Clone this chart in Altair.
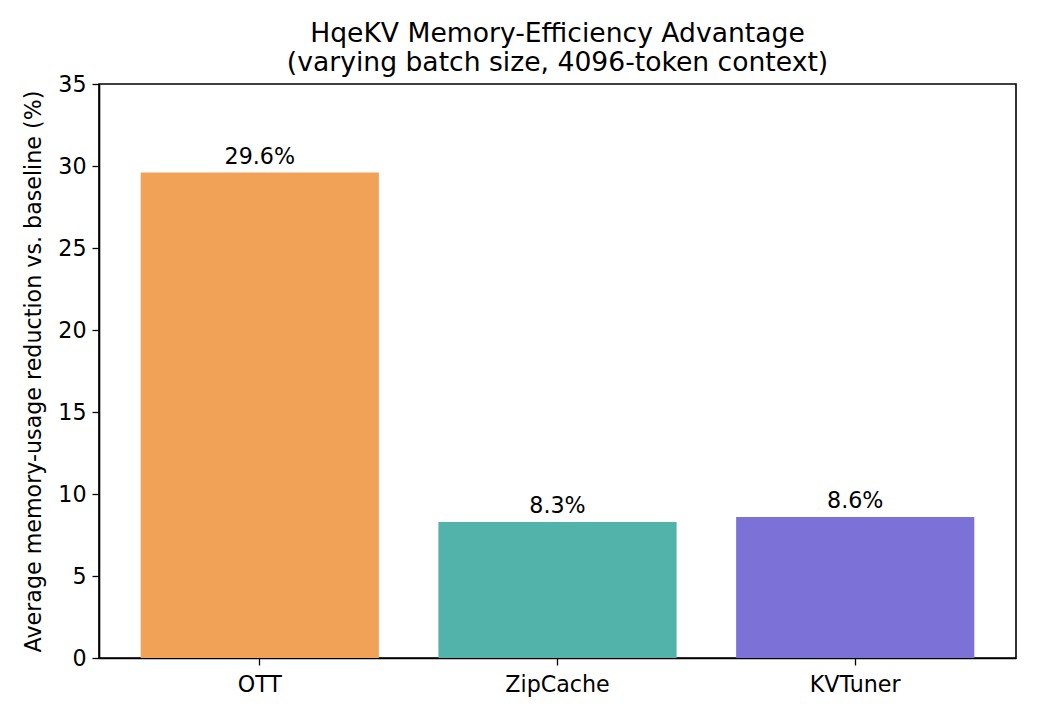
import pandas as pd
import altair as alt

methods = ["OTT", "ZipCache", "KVTuner"]
reduction = [29.6, 8.3, 8.6]
bar_colors = ["#F1A257", "#51B3AA", "#7C71D7"]

df = pd.DataFrame({"Method": methods, "Reduction": reduction})
df["Label"] = [f"{v:.1f}%" for v in reduction]

FONT = "DejaVu Sans"
SMALL = 22.2

base = alt.Chart(df).encode(
    x=alt.X(
        "Method:N",
        sort=methods,
        title=None,
        scale=alt.Scale(paddingInner=0.2, paddingOuter=0.14),
        axis=alt.Axis(labelAngle=0, labelFontSize=SMALL, labelPadding=8,
                      tickSize=7, tickColor="black", tickWidth=1.3,
                      domainColor="black", domainWidth=1.6, labelColor="black"),
    ),
    y=alt.Y(
        "Reduction:Q",
        title="Average memory-usage reduction vs. baseline (%)",
        scale=alt.Scale(domain=[0, 35], nice=False),
        axis=alt.Axis(values=list(range(0, 36, 5)), grid=False, labelFontSize=SMALL,
                      titleFontSize=SMALL, titleFontWeight="normal", titleColor="black",
                      labelPadding=6, titlePadding=12, tickSize=7, tickColor="black",
                      tickWidth=1.3, domainColor="black", domainWidth=1.6,
                      labelColor="black"),
    ),
)

bars = base.mark_bar().encode(
    color=alt.Color("Method:N", scale=alt.Scale(domain=methods, range=bar_colors), legend=None)
)

labels = base.mark_text(baseline="bottom", dy=-4, fontSize=SMALL, font=FONT, color="black").encode(
    text="Label:N"
)

chart = (bars + labels).properties(
    width=917,
    height=574,
    title=alt.TitleParams(
        ["HqeKV Memory-Efficiency Advantage", "(varying batch size, 4096-token context)"],
        fontSize=26.6, fontWeight="normal", font=FONT, color="black",
        anchor="middle", lineHeight=29, offset=-4,
    ),
    autosize=alt.AutoSizeParams(type="none"),
    padding={"left": 91, "top": 76, "right": 16, "bottom": 54},
).configure(font=FONT).configure_axis(
    labelFont=FONT, titleFont=FONT
).configure_view(stroke="black", strokeWidth=1.6)

chart.save("out.html", embed_options={"renderer": "svg", "actions": False})
